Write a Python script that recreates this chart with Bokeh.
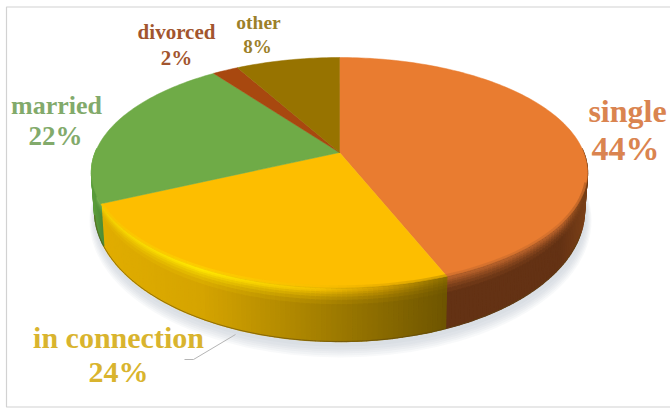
import numpy as np
from bokeh.core.properties import value
from bokeh.embed import file_html
from bokeh.models import Range1d
from bokeh.plotting import figure
from bokeh.resources import INLINE

# Marital status shares, clockwise from twelve o'clock
categories = ["single", "in connection", "married", "divorced", "other"]
shares = [44, 24, 22, 2, 8]
face_colors = ["#e97c30", "#fdbe00", "#6fab47", "#a8480f", "#977300"]
label_colors = ["#da8450", "#d9b42e", "#82aa6b", "#a2552e", "#9c8029"]

# Placement of the tilted disc, in page pixels
CX, CY, RX, RY = 339.0, 172.0, 248.0, 115.0
BCX, BCY, BRX, BRY = 339.0, 210.0, 245.0, 131.0
TILT = 0.174  # perspective shift of the pie centre towards the far edge


def project(theta):
    """Map clockwise angles on the flat pie to the perspective ellipse."""
    u, v = np.sin(theta), np.cos(theta)
    d = 1 + TILT * v
    return u * np.sqrt(1 - TILT**2) / d, (v + TILT) / d


def hex_rgb(c):
    return np.array([int(c[i:i + 2], 16) for i in (1, 3, 5)], float)


def to_hex(rgb):
    return "#%02x%02x%02x" % tuple(int(round(v)) for v in rgb)


def blend(stops, x):
    xs = [s[0] for s in stops]
    cols = np.array([hex_rgb(s[1]) for s in stops])
    return np.array([np.interp(x, xs, cols[:, i]) for i in range(3)])


p = figure(width=670, height=408, output_backend="svg", toolbar_location=None,
           x_range=Range1d(0, 670), y_range=Range1d(408, 0), min_border=0)
p.axis.visible = False
p.grid.visible = False
p.outline_line_color = None
p.background_fill_color = "white"
p.border_fill_color = "white"

# Panel frame
p.line([670, 6, 6, 670], [6.5, 6.5, 406.5, 406.5], line_color="#d2d2d2", line_width=1.2)

# Soft shadow on the ground
for grow, drop in [(12, 10), (10, 9), (8, 8), (6, 7), (4, 6), (2, 4)]:
    p.ellipse(BCX + 1, BCY + drop, width=2 * BRX + grow, height=2 * BRY + grow,
              fill_color="#9aa6b4", fill_alpha=0.07, line_color=None)

edges = np.radians(np.cumsum([0] + shares) * 3.6)
u_e, v_e = project(edges)
phi_e = np.degrees(np.arctan2(u_e, v_e)) % 360
phi_e[-1] = 360.0

# Side wall colour ramps: across the page for the lower wall, along the rim for the bevel
wall_ramps = {
    "single": [(440, "#643214"), (560, "#643214"), (587, "#7a4018")],
    "in connection": [(90, "#e2ae00"), (200, "#d5a400"), (320, "#a47f00"), (445, "#6e5500")],
    "married": [(90, "#5c9e3c"), (110, "#3f7a30")],
}
rim_ramps = {
    "single": [(440, "#b4602a"), (560, "#b4602a"), (587, "#6e3a14")],
    "in connection": [(90, "#f4d000"), (200, "#ffe600"), (320, "#f4c000"), (380, "#d09c00"), (445, "#8a6c00")],
    "married": [(90, "#85c060"), (110, "#6aa545")],
}
spans = {"single": (78, phi_e[1]), "in connection": (phi_e[1], phi_e[2]),
         "married": (phi_e[2], 282)}

xs_q, ys_q, cols_q = [], [], []
rows = [0.0, 0.03, 0.06, 0.09, 0.13, 0.18, 0.24, 0.32, 1.0]
rim_weight = [0.8, 1.0, 0.9, 0.7, 0.5, 0.3, 0.12, 0.0]
for name, (a0, a1) in spans.items():
    steps = max(2, int((a1 - a0) / 1.2))
    phis = np.radians(np.linspace(a0, a1, steps + 1))
    for i in range(steps):
        pa, pb = phis[i], phis[i + 1]
        xm = CX + RX * np.sin((pa + pb) / 2)
        base = blend(wall_ramps[name], xm)
        rim = blend(rim_ramps[name], xm)
        for r in range(len(rows) - 1):
            s0, s1 = rows[r], rows[r + 1]
            qx, qy = [], []
            for ph, s in [(pa, s0), (pb, s0), (pb, s1), (pa, s1)]:
                tx, ty = CX + RX * np.sin(ph), CY - RY * np.cos(ph)
                bx, by = BCX + BRX * np.sin(ph), BCY - BRY * np.cos(ph)
                qx.append(tx + (bx - tx) * s)
                qy.append(ty + (by - ty) * s)
            c = to_hex(base * (1 - rim_weight[r]) + rim * rim_weight[r])
            xs_q.append(qx)
            ys_q.append(qy)
            cols_q.append(c)
p.patches(xs_q, ys_q, fill_color=cols_q, line_color=cols_q, line_width=1.4)

# Thin dark line where the wall meets the ground
ph = np.radians(np.linspace(100, 268, 120))
p.line(BCX + BRX * np.sin(ph), BCY - BRY * np.cos(ph), line_color="#5a4510", line_width=0.8, line_alpha=0.7)

# Top face of the pie, one wedge per category
apex_x = CX
apex_y = CY - RY * TILT
for i, name in enumerate(categories):
    n = max(3, int(shares[i] * 3))
    th = np.linspace(edges[i], edges[i + 1], n + 1)
    u, v = project(th)
    xs = np.concatenate([[apex_x], CX + RX * u])
    ys = np.concatenate([[apex_y], CY - RY * v])
    p.patch(xs, ys, fill_color=face_colors[i], line_color=face_colors[i], line_width=0.5)

# Feather the front rim of the face into the wall
seg_x, seg_y, seg_c = [], [], []
for name in ("single", "in connection"):
    a0, a1 = spans[name]
    phis = np.radians(np.linspace(max(a0, 95), a1, int((a1 - max(a0, 95)) / 2) + 2))
    for pa, pb in zip(phis[:-1], phis[1:]):
        seg_x.append([CX + (RX - 1) * np.sin(pa), CX + (RX - 1) * np.sin(pb)])
        seg_y.append([CY - (RY - 1) * np.cos(pa), CY - (RY - 1) * np.cos(pb)])
        seg_c.append(to_hex(blend(rim_ramps[name], CX + RX * np.sin((pa + pb) / 2))))
p.multi_line(seg_x, seg_y, line_color=seg_c, line_alpha=0.35, line_width=2.5)

# Leader line for the "in connection" label
p.line([235, 193, 184], [334, 359, 359], line_color="#b5b5b5", line_width=1)

# Category names and their percentages
label_x = [627, 118, 56, 176, 258]
name_y = [110, 337, 105, 31, 22]
pct_x = [625, 118, 55, 176, 257]
pct_y = [148, 371, 135, 57, 46]
name_px = ["32px", "30px", "26px", "21px", "19.5px"]
pct_px = ["34px", "30px", "27px", "21px", "19px"]
for i, name in enumerate(categories):
    p.text([label_x[i]], [name_y[i]], text=[name], text_color=label_colors[i],
           text_font=value("Liberation Serif"), text_font_style="bold",
           text_font_size=name_px[i], text_align="center", text_baseline="middle")
    p.text([pct_x[i]], [pct_y[i]], text=[f"{shares[i]}%"], text_color=label_colors[i],
           text_font=value("Liberation Serif"), text_font_style="bold",
           text_font_size=pct_px[i], text_align="center", text_baseline="middle")

open("out.html", "w").write(file_html(p, INLINE))
